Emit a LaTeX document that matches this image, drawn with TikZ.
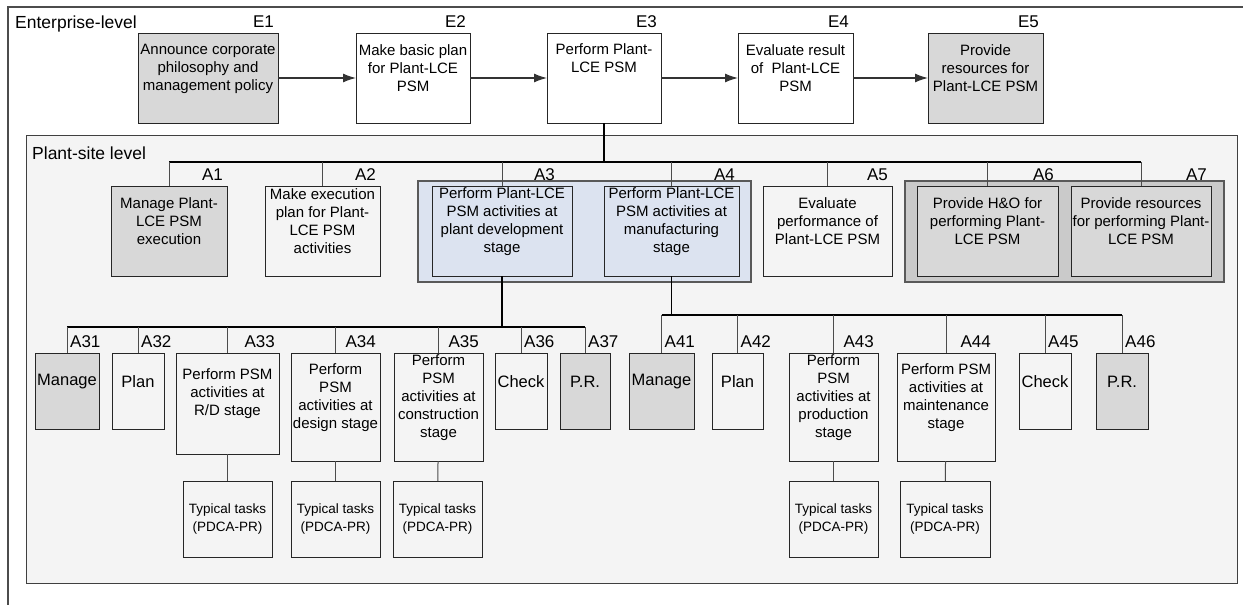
\documentclass[tikz,border=0pt]{standalone}
\usepackage{fontspec}
\setmainfont{Liberation Sans}
\usetikzlibrary{arrows.meta}
\definecolor{boxgray}{HTML}{D8D8D8}
\definecolor{grpgray}{HTML}{CACACA}
\definecolor{grpblue}{HTML}{DCE3F0}
\definecolor{sitegray}{HTML}{F4F4F4}

\begin{document}
\begin{tikzpicture}[x=1pt,y=-1pt,
		box/.style={draw=black!85,line width=1pt,inner sep=0pt,outer sep=0pt,anchor=north west},
		grp/.style={draw=black!65,line width=1.2pt,inner sep=0pt,outer sep=0pt,anchor=north west},
		intext/.style={align=center,font=\fontsize{15}{18}\selectfont,yshift=9.5pt},
		txt/.style={label={[intext]center:{#1}}},
		txtbig/.style={label={[intext,font=\fontsize{16.5}{20}\selectfont]center:{#1}}},
		tag/.style={font=\fontsize{17}{20}\selectfont,inner sep=2pt,yshift=3pt},
		tagr/.style={label={[tag,anchor=south east,xshift=-2pt]north east:#1}},
		tagl/.style={label={[tag,anchor=south west,xshift=1pt]north:#1}},
		task/.style={box,minimum width=89,minimum height=76,
			label={[align=center,font=\fontsize{13.5}{17.5}\selectfont]center:{Typical tasks\\(PDCA-PR)}}},
		arr/.style={draw=black!80,line width=1.2pt,-{Latex[length=13pt,width=9pt]}},
		trunk/.style={line width=1.6pt},
		drop/.style={draw=black!70,line width=1pt}]
	\useasboundingbox (0,0) rectangle (1243,605);
	% frames
	\draw[draw=black!70,line width=1.3pt] (8,620) -- (8,7) -- (1260,7);
	\node[anchor=west,inner sep=0pt,font=\fontsize{17.5}{20}\selectfont] (ent) at (15,24) {Enterprise-level};
	\draw[draw=black!75,line width=1pt,fill=sitegray] (26,135) rectangle (1237,583);
	\node[anchor=west,inner sep=0pt,font=\fontsize{17.5}{20}\selectfont] (site) at (32,153) {Plant-site level};
	
	% enterprise level
	\node[box,fill=boxgray,minimum width=140,minimum height=90,tagr=E1,
		txt={Announce corporate\\philosophy and\\management policy}] (e1) at (138,33) {};
	\node[box,fill=white,minimum width=114,minimum height=90,tagr=E2,
		txt={Make basic plan\\for Plant-LCE\\PSM}] (e2) at (356,33) {};
	\node[box,fill=white,minimum width=114,minimum height=90,tagr=E3,
		label={[intext,yshift=10pt]center:{Perform Plant-\\LCE PSM}}] (e3) at (547,33) {};
	\node[box,fill=white,minimum width=115,minimum height=90,tagr=E4,
		txt={Evaluate result\\of\ \ Plant-LCE\\PSM}] (e4) at (738,33) {};
	\node[box,fill=boxgray,minimum width=115,minimum height=90,tagr=E5,
		txt={Provide\\resources for\\Plant-LCE PSM}] (e5) at (928,33) {};
	\draw[arr] (e1) -- (e2);
	\draw[arr] (e2) -- (e3);
	\draw[arr] (e3) -- (e4);
	\draw[arr] (e4) -- (e5);
	
	% plant-site level
	\node[grp,fill=grpblue,minimum width=333,minimum height=101] (g34) at (418,181) {};
	\node[grp,fill=grpgray,minimum width=319,minimum height=101] (g67) at (905,181) {};
	\node[box,fill=boxgray,minimum width=116,minimum height=90,tagr=A1,
		txt={Manage Plant-\\LCE PSM\\execution}] (a1) at (111,186) {};
	\node[box,minimum width=115,minimum height=90,tagr=A2,
		txt={Make execution\\plan for Plant-\\LCE PSM\\activities}] (a2) at (265,186) {};
	\node[box,fill=grpblue,minimum width=140,minimum height=90,
		label={[tag,anchor=south east,xshift=-15pt]north east:A3},
		txt={Perform Plant-LCE\\PSM activities at\\plant development\\stage}] (a3) at (432,186) {};
	\node[box,fill=grpblue,minimum width=135,minimum height=90,tagr=A4,
		txt={Perform Plant-LCE\\PSM activities at\\manufacturing\\stage}] (a4) at (604,186) {};
	\node[box,minimum width=129,minimum height=90,tagr=A5,
		txt={Evaluate\\performance of\\Plant-LCE PSM}] (a5) at (763,186) {};
	\node[box,fill=boxgray,minimum width=141,minimum height=90,tagr=A6,
		txt={Provide H\&O for\\performing Plant-\\LCE PSM}] (a6) at (917,186) {};
	\node[box,fill=boxgray,minimum width=140,minimum height=90,tagr=A7,
		txt={Provide resources\\for performing Plant-\\LCE PSM}] (a7) at (1071,186) {};
	\coordinate (bus) at (605,162);
	\draw[trunk] (e3) -- (e3 |- bus);
	\draw[trunk] (a1.north |- bus) -- (a7.north |- bus);
	\draw[drop] (a1.north) -- (a1.north |- bus) (a2.north) -- (a2.north |- bus)
		(a3.north) -- (a3.north |- bus) (a4.north) -- (a4.north |- bus)
		(a5.north) -- (a5.north |- bus) (a6.north) -- (a6.north |- bus)
		(a7.north) -- (a7.north |- bus);
	
	% development stage
	\node[box,fill=boxgray,minimum width=64,minimum height=76,tagl=A31,txtbig=Manage] (a31) at (35,353) {};
	\node[box,minimum width=52,minimum height=76,tagl=A32,txtbig=Plan] (a32) at (112,353) {};
	\node[box,minimum width=103,minimum height=101,tagr=A33,
		txt={Perform PSM\\activities at\\R/D stage}] (a33) at (176,353) {};
	\node[box,minimum width=89,minimum height=108,tagr=A34,
		txt={Perform\\PSM\\activities at\\design stage}] (a34) at (291,353) {};
	\node[box,minimum width=89,minimum height=108,tagr=A35,
		txt={Perform\\PSM\\activities at\\construction\\stage}] (a35) at (394,353) {};
	\node[box,minimum width=52,minimum height=76,tagl=A36,txtbig=Check] (a36) at (495,353) {};
	\node[box,fill=boxgray,minimum width=50,minimum height=76,tagl=A37,txtbig=P.R.] (a37) at (560,353) {};
	\node[task] (t33) at (183,481) {};
	\node[task] (t34) at (291,481) {};
	\node[task] (t35) at (393,481) {};
	\coordinate (bus3) at (502,327);
	\draw[trunk] (a3) -- (a3 |- bus3);
	\draw[trunk] (a31.north |- bus3) -- (a37.north |- bus3);
	\draw[drop] (a31.north) -- (a31.north |- bus3) (a32.north) -- (a32.north |- bus3)
		(a33.north) -- (a33.north |- bus3) (a34.north) -- (a34.north |- bus3)
		(a35.north) -- (a35.north |- bus3) (a36.north) -- (a36.north |- bus3)
		(a37.north) -- (a37.north |- bus3);
	\draw[drop] (a33) -- (t33);
	\draw[drop] (a34) -- (t34);
	\draw[drop] (a35) -- (t35);
	
	% manufacturing stage
	\node[box,fill=boxgray,minimum width=65,minimum height=76,tagl=A41,txtbig=Manage] (a41) at (629,353) {};
	\node[box,minimum width=51,minimum height=76,tagl=A42,txtbig=Plan] (a42) at (712,353) {};
	\node[box,minimum width=89,minimum height=108,tagr=A43,
		txt={Perform\\PSM\\activities at\\production\\stage}] (a43) at (789,353) {};
	\node[box,minimum width=98,minimum height=108,tagr=A44,
		txt={Perform PSM\\activities at\\maintenance\\stage}] (a44) at (897,353) {};
	\node[box,minimum width=52,minimum height=76,tagl=A45,txtbig=Check] (a45) at (1019,353) {};
	\node[box,fill=boxgray,minimum width=52,minimum height=76,tagl=A46,txtbig=P.R.] (a46) at (1096,353) {};
	\node[task] (t43) at (789,481) {};
	\node[task,minimum width=90] (t44) at (900,481) {};
	\coordinate (bus4) at (671,315);
	\draw[trunk] (a4) -- (a4 |- bus4);
	\draw[trunk] (a41.north |- bus4) -- (a46.north |- bus4);
	\draw[drop] (a41.north) -- (a41.north |- bus4) (a42.north) -- (a42.north |- bus4)
		(a43.north) -- (a43.north |- bus4) (a44.north) -- (a44.north |- bus4)
		(a45.north) -- (a45.north |- bus4) (a46.north) -- (a46.north |- bus4);
	\draw[drop] (a43) -- (t43);
	\draw[drop] (a44) -- (t44);
\end{tikzpicture}
\end{document}
